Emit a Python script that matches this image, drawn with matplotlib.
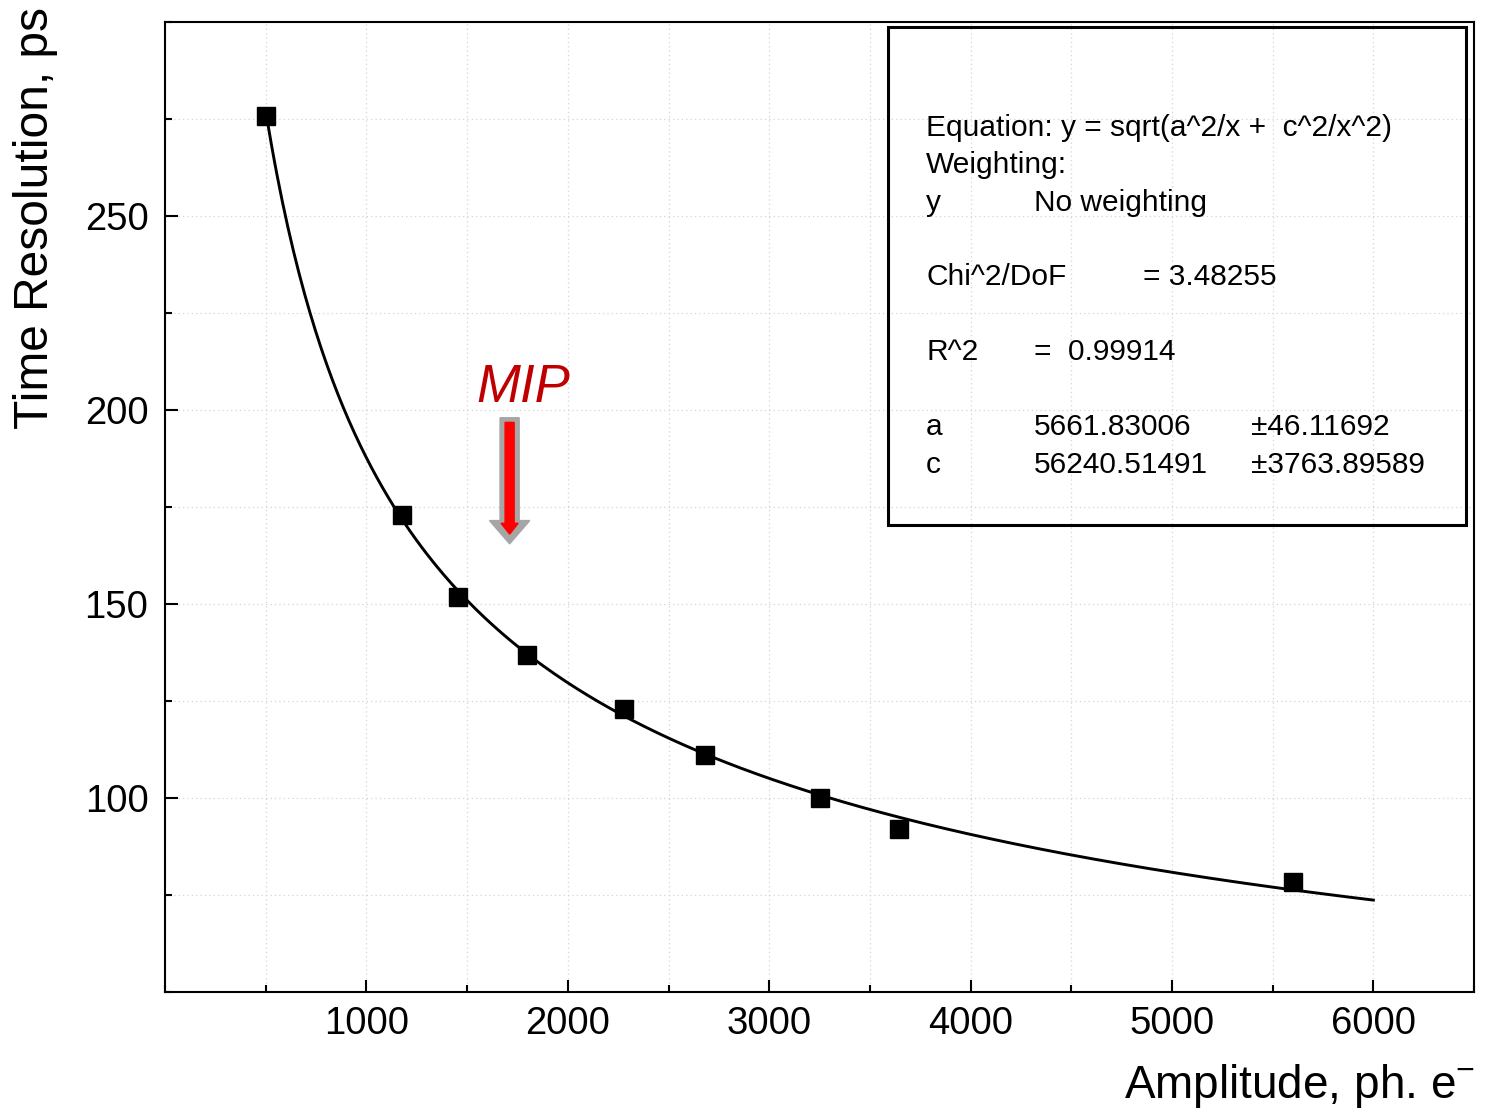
import numpy as np
import matplotlib
matplotlib.use("Agg")
import matplotlib.pyplot as plt
from matplotlib.patches import Rectangle
from matplotlib.ticker import MultipleLocator

plt.rcParams["font.family"] = ["Liberation Sans", "DejaVu Sans"]
plt.rcParams["mathtext.fontset"] = "custom"
plt.rcParams["mathtext.rm"] = "Liberation Sans"

# measured points
amplitude = [500, 1175, 1455, 1795, 2280, 2680, 3250, 3645, 5600]
time_res = [275.8, 172.9, 151.8, 136.9, 122.9, 111.1, 100.0, 92.0, 78.4]

# fit parameters from the fit report
fit_a = 5661.83006
fit_c = 56240.51491
fit_range = (500, 6000)

report_rows = [
    ("Equation: y = sqrt(a^2/x +  c^2/x^2)", "", ""),
    ("Weighting:", "", ""),
    ("y", "No weighting", ""),
    (None, None, None),
    ("Chi^2/DoF", "", "= 3.48255"),
    (None, None, None),
    ("R^2", "=  0.99914", ""),
    (None, None, None),
    ("a", "5661.83006", "\u00b146.11692"),
    ("c", "56240.51491", "\u00b13763.89589"),
]

mip_x = 1711
mip_top, mip_tip = 198, 165.5


def main():
    fig = plt.figure(figsize=(14.87, 11.14), dpi=100)
    ax = fig.add_axes([0.111, 0.1095, 0.8803, 0.8708])

    xs = np.linspace(fit_range[0], fit_range[1], 400)
    ys = np.sqrt(fit_a ** 2 / xs + fit_c ** 2 / xs ** 2)
    ax.plot(xs, ys, color="black", lw=2.1, zorder=3)
    ax.plot(amplitude, time_res, "s", color="black", ms=12.5, zorder=4)

    ax.set_xlim(0, 6500)
    ax.set_ylim(50, 300)
    ax.xaxis.set_major_locator(MultipleLocator(1000))
    ax.xaxis.set_minor_locator(MultipleLocator(500))
    ax.yaxis.set_major_locator(MultipleLocator(50))
    ax.yaxis.set_minor_locator(MultipleLocator(25))
    ax.set_xticks([1000, 2000, 3000, 4000, 5000, 6000])
    ax.set_yticks([100, 150, 200, 250])
    ax.tick_params(which="both", direction="in", width=1.5, labelsize=27.5)
    ax.tick_params(which="major", length=9)
    ax.tick_params(which="minor", length=5)
    ax.tick_params(axis="x", pad=10)
    ax.tick_params(axis="y", pad=12)
    ax.grid(True, which="both", color="#d4d4d4", lw=0.9, ls=(0, (1, 2.5)))
    for s in ax.spines.values():
        s.set_linewidth(1.5)

    fig.text(0.024, 0.804, "Time Resolution, ps", rotation=90,
             ha="center", va="center", fontsize=34.5)
    fig.text(0.992, 0.025, "Amplitude, ph. e$^{-}$", ha="right",
             va="center", fontsize=33)

    # fit report box
    ax.add_patch(Rectangle((0.5523, 0.4814), 0.4416, 0.5134,
                           transform=ax.transAxes, fill=False,
                           ec="black", lw=2.2, zorder=5))
    line_y = [128, 165, 203, 240, 277, 315, 352, 390, 427, 465]
    cols = [0.5814, 0.6639, 0.7471]
    for py, row in zip(line_y, report_rows):
        if row[0] is None:
            continue
        yy = (992 - py) / 970
        cols_here = [0.5814, 0.6639, 0.8297] if row[0] in ("a", "c") else cols
        for cx, txt in zip(cols_here, row):
            if txt:
                ax.text(cx, yy, txt, transform=ax.transAxes, ha="left",
                        va="center", fontsize=21.5, zorder=6)

    # MIP marker
    ax.arrow(mip_x, mip_top, 0, mip_tip - mip_top, width=95,
             head_width=200, head_length=6, length_includes_head=True,
             color="#a6a6a6", zorder=5)
    ax.arrow(mip_x, mip_top - 1.2, 0, mip_tip + 2.5 - mip_top + 1.2,
             width=45, head_width=85, head_length=2.8,
             length_includes_head=True, color="#ff0000", zorder=6)
    ax.text(1781, 202, "MIP", color="#c00000", fontsize=38,
            style="italic", ha="center", va="baseline", zorder=6)

    fig.savefig("out.png", dpi=100)


if __name__ == "__main__":
    main()
